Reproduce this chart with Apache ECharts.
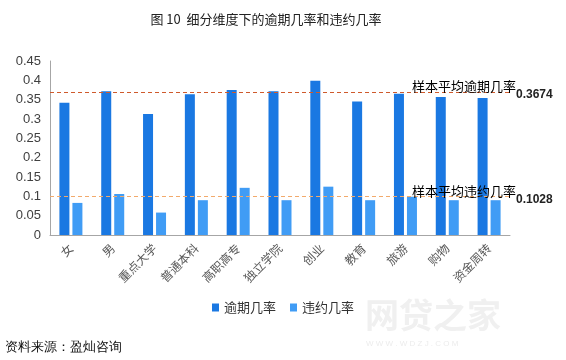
<!DOCTYPE html>
<html><head><meta charset="utf-8">
<script src="https://cdn.jsdelivr.net/npm/echarts@6/dist/echarts.min.js"></script>
<style>html,body{margin:0;padding:0;background:#fff}#c{width:566px;height:360px}</style>
</head><body><div id="c"></div>
<script>
const categories = ['女','男','重点大学','普通本科','高职高专','独立学院','创业','教育','旅游','购物','资金周转'];
const overdueRate = [0.342,0.372,0.313,0.364,0.375,0.372,0.399,0.345,0.365,0.357,0.354];
const defaultRate = [0.083,0.106,0.058,0.090,0.122,0.090,0.125,0.090,0.099,0.090,0.090];
const seriesNames = ['逾期几率','违约几率'];
const avgOverdue = 0.3674;
const avgDefault = 0.1028;
const yTicks = [0,0.05,0.1,0.15,0.2,0.25,0.3,0.35,0.4,0.45];

const font = '"Noto Sans CJK SC", "Microsoft YaHei", sans-serif';
const chart = echarts.init(document.getElementById('c'), null, {renderer:'canvas'});
function ml(val, name, color){
  return {
    symbol:'none', silent:true,
    lineStyle:{color:color, type:[4,3], width:1},
    data:[
      {yAxis:val, label:{show:true, position:'insideEndTop', formatter:name, color:'#000', fontSize:13, fontFamily:font, distance:[0,-1], offset:[6,0]}},
      {yAxis:val, label:{show:true, position:'end', formatter:String(val), color:'#222', fontSize:12, fontWeight:'bold', fontFamily:'Arial, Liberation Sans, sans-serif', distance:6, offset:[0,3]}}
    ]
  };
}
chart.setOption({
  animation:false,
  textStyle:{fontFamily:font},
  title:{text:'图 10  细分维度下的逾期几率和违约几率', left:261, top:8, textAlign:'center',
    textStyle:{fontSize:13, fontWeight:'normal', color:'#222', fontFamily:font}},
  grid:{left:50, right:56, top:61, bottom:125},
  legend:{data:seriesNames, top:296, left:'center', itemWidth:7, itemHeight:8, itemGap:14,
    icon:'rect', textStyle:{fontSize:13, color:'#333', fontFamily:font}},
  xAxis:{type:'category', data:categories,
    axisLine:{lineStyle:{color:'#a6a6a6', width:1}}, axisTick:{show:false},
    axisLabel:{rotate:45, interval:0, fontSize:12, color:'#595959', margin:11, fontFamily:font}},
  yAxis:{type:'value', min:0, max:0.45, interval:0.05,
    axisLine:{show:true, lineStyle:{color:'#a6a6a6'}}, axisTick:{show:false}, splitLine:{show:false},
    axisLabel:{fontSize:13, color:'#404040', margin:9, fontFamily:'Arial, Liberation Sans, sans-serif',
      formatter:v=>{const t=yTicks.find(x=>Math.abs(x-v)<1e-9); return t===undefined?'':String(t);}}},
  series:[
    {name:seriesNames[0], type:'bar', data:overdueRate, barWidth:10, barGap:'30%',
      itemStyle:{color:'#1a78e2'}, markLine:ml(avgOverdue,'样本平均逾期几率','#cf5a2c')},
    {name:seriesNames[1], type:'bar', data:defaultRate, barWidth:10,
      itemStyle:{color:'#409cf5'}, markLine:ml(avgDefault,'样本平均违约几率','#f2aa6c')}
  ],
  graphic:[
    {type:'text', left:5, top:341, style:{text:'资料来源：盈灿咨询', fontSize:13, fill:'#111', font:'13px '+font}},
    {type:'text', left:365, top:298, style:{text:'网贷之家', font:'bold 34px '+font, fill:'#f0f0f0'}},
    {type:'text', left:366, top:340, style:{text:'W W W . W D Z J . C O M', font:'8px Arial', fill:'#ececec'}}
  ]
});
</script></body></html>
